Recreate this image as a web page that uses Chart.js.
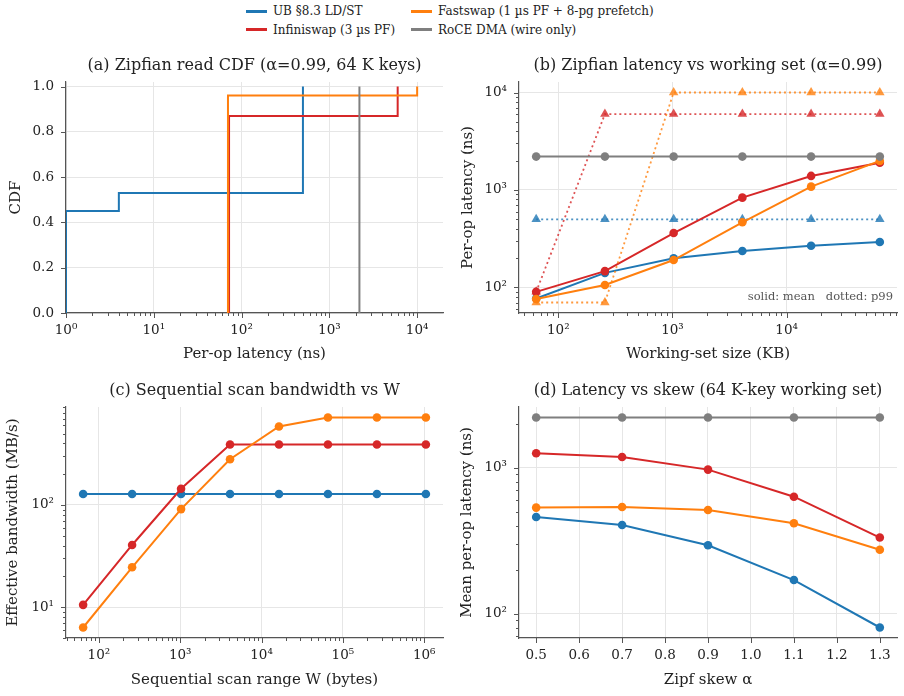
<!DOCTYPE html>
<html>
<head>
<meta charset="utf-8">
<script src="https://cdn.jsdelivr.net/npm/chart.js@4.4.0/dist/chart.umd.min.js"></script>
<style>
  body { margin: 0; background: #fff; }
  #wrap { position: relative; width: 904px; height: 696px; font-family: 'DejaVu Serif', serif; }
  canvas { position: absolute; }
  #legend { position: absolute; left: 246px; top: 2px; display: grid; grid-template-columns: 165px auto; row-gap: 0; font-size: 12px; color: #222; }
  .item { display: flex; align-items: center; height: 18.5px; white-space: nowrap; }
  .swatch { display: inline-block; width: 21px; height: 3px; margin-right: 6px; }
</style>
</head>
<body>
<div id="wrap">
  <div id="legend"></div>
  <canvas id="chartA" width="452" height="325" style="left:0;top:45px"></canvas>
  <canvas id="chartB" width="452" height="325" style="left:452px;top:45px"></canvas>
  <canvas id="chartC" width="452" height="326" style="left:0;top:370px"></canvas>
  <canvas id="chartD" width="452" height="326" style="left:452px;top:370px"></canvas>
</div>
<script>
// Series names / colours
const systems = ['UB §8.3 LD/ST', 'Infiniswap (3 µs PF)', 'Fastswap (1 µs PF + 8-pg prefetch)', 'RoCE DMA (wire only)'];
const colors = ['#1f77b4', '#d62728', '#ff7f0e', '#7f7f7f'];

// (a) CDF step points
const cdfUbLat = [1, 1, 4, 500];
const cdfUbVal = [0, 0.45, 0.53, 1.0];
const cdfInfLat = [72, 72, 6000];
const cdfInfVal = [0, 0.87, 1.0];
const cdfFastLat = [70, 70, 10000];
const cdfFastVal = [0, 0.96, 1.0];
const cdfRoceLat = [2200, 2200];
const cdfRoceVal = [0, 1.0];

// (b) latency vs working set
const wsKB = [64, 256, 1024, 4096, 16384, 65536];
const wsMeanUb = [77, 141, 199, 236, 268, 292];
const wsMeanInf = [90, 147, 361, 834, 1393, 1900];
const wsMeanFast = [76, 106, 191, 466, 1081, 1985];
const wsMeanRoce = [2200, 2200, 2200, 2200, 2200, 2200];
const wsP99Ub = [500, 500, 500, 500, 500, 500];
const wsP99Inf = [90, 6000, 6000, 6000, 6000, 6000];
const wsP99Fast = [70, 70, 10000, 10000, 10000, 10000];

// (c) sequential scan bandwidth
const scanW = [64, 256, 1024, 4096, 16384, 65536, 262144, 1048576];
const bwUb = [128, 128, 128, 128, 128, 128, 128, 128];
const bwInf = [10.5, 40.5, 144, 390, 390, 390, 390, 390];
const bwFast = [6.3, 24.5, 91, 280, 586, 718, 718, 718];

// (d) latency vs skew
const skew = [0.5, 0.7, 0.9, 1.1, 1.3];
const skUb = [459, 405, 294, 170, 80.5];
const skInf = [1254, 1182, 968, 632, 332];
const skFast = [532, 537, 513, 416, 274];
const skRoce = [2200, 2200, 2200, 2200, 2200];

const FONT = "'DejaVu Serif', serif";
const SPINE = '#555';
const GRID = '#e6e6e6';
const TXT = '#222';
const SUP = {'-': '⁻', '0': '⁰', '1': '¹', '2': '²', '3': '³', '4': '⁴', '5': '⁵', '6': '⁶', '7': '⁷', '8': '⁸', '9': '⁹'};

// legend
const legendEl = document.getElementById('legend');
[0, 2, 1, 3].forEach((i) => {
  const d = document.createElement('div');
  d.className = 'item';
  d.innerHTML = '<span class="swatch" style="background:' + colors[i] + '"></span>' + systems[i];
  legendEl.appendChild(d);
});

const pts = (xs, ys) => xs.map((x, i) => ({x: x, y: ys[i]}));

// 5% margin on a log axis, like matplotlib
function logPad(lo, hi) {
  const a = Math.log10(lo), b = Math.log10(hi), m = (b - a) * 0.05;
  return [Math.pow(10, a - m), Math.pow(10, b + m)];
}

function logTicks(scale) {
  const ticks = [];
  const lo = Math.floor(Math.log10(scale.min)), hi = Math.ceil(Math.log10(scale.max));
  for (let e = lo; e <= hi; e++) {
    for (let k = 1; k < 10; k++) {
      const v = k * Math.pow(10, e);
      if (v >= scale.min * 0.9999 && v <= scale.max * 1.0001) ticks.push({value: v, major: k === 1});
    }
  }
  scale.ticks = ticks;
}

function fixedTicks(values) {
  return (scale) => { scale.ticks = values.map((v) => ({value: v, major: true})); };
}

function logLabel(value, index, ticks) {
  if (!ticks[index].major) return '';
  const e = String(Math.round(Math.log10(value)));
  return '10' + e.split('').map((c) => SUP[c]).join('');
}

// draws outward tick marks, longer for major
const tickMarks = {
  id: 'tickMarks',
  afterDraw(chart) {
    const ctx = chart.ctx;
    ctx.save();
    ctx.strokeStyle = SPINE;
    ctx.lineWidth = 1;
    ['x', 'y'].forEach((id) => {
      const s = chart.scales[id];
      s.ticks.forEach((t) => {
        const len = t.major ? 5 : 3;
        const p = Math.round(s.getPixelForValue(t.value)) + 0.5;
        ctx.beginPath();
        if (id === 'x') { ctx.moveTo(p, s.top); ctx.lineTo(p, s.top + len); }
        else { ctx.moveTo(s.right, p); ctx.lineTo(s.right - len, p); }
        ctx.stroke();
      });
    });
    ctx.restore();
  }
};

// panel title centred over the plot area, plus optional corner note
const panelText = {
  id: 'panelText',
  afterDraw(chart, args, opts) {
    const ctx = chart.ctx, a = chart.chartArea;
    ctx.save();
    ctx.font = '16px ' + FONT;
    ctx.fillStyle = TXT;
    ctx.textAlign = 'center';
    ctx.textBaseline = 'middle';
    ctx.fillText(opts.title, (a.left + a.right) / 2, 20.5);
    if (opts.note) {
      ctx.font = '11.5px ' + FONT;
      ctx.fillStyle = '#555';
      ctx.textAlign = 'right';
      ctx.fillText(opts.note, a.right - 4, a.bottom - 16);
    }
    ctx.restore();
  }
};

function axis(o) {
  return {
    type: o.type,
    min: o.min,
    max: o.max,
    bounds: 'data',
    afterBuildTicks: o.ticks,
    afterFit: (s) => { if (o.width) s.width = o.width; if (o.height) s.height = o.height; },
    border: {display: true, color: SPINE, width: 1.2},
    grid: {
      color: (c) => (c.tick && c.tick.major ? GRID : 'rgba(0,0,0,0)'),
      lineWidth: 1,
      tickLength: 5,
      tickColor: 'rgba(0,0,0,0)'
    },
    ticks: {
      autoSkip: false,
      maxRotation: 0,
      padding: o.pad,
      color: TXT,
      font: {family: FONT, size: 13.5},
      callback: o.label
    },
    title: {
      display: true,
      text: o.title,
      color: TXT,
      font: {family: FONT, size: 15, lineHeight: 1.2},
      padding: o.titlePad
    }
  };
}

function makeChart(id, datasets, title, xAxis, yAxis, note) {
  return new Chart(document.getElementById(id), {
    type: 'scatter',
    data: {datasets: datasets},
    plugins: [tickMarks, panelText],
    options: {
      responsive: false,
      animation: false,
      events: [],
      layout: {padding: {left: 0, right: xAxis.rightPad, top: 37, bottom: 0}},
      plugins: {
        legend: {display: false},
        tooltip: {enabled: false},
        title: {display: false},
        panelText: {title: title, note: note}
      },
      scales: {x: axis(xAxis), y: axis(yAxis)}
    }
  });
}

function solid(xs, ys, ci, order, radius) {
  return {
    data: pts(xs, ys),
    showLine: true,
    borderColor: colors[ci],
    backgroundColor: colors[ci],
    borderWidth: 2,
    pointRadius: radius,
    pointBorderWidth: 0,
    order: order
  };
}

function dotted(xs, ys, ci, order) {
  const c = colors[ci] + 'cc';
  return {
    data: pts(xs, ys),
    showLine: true,
    borderColor: c,
    backgroundColor: c,
    borderWidth: 1.8,
    borderDash: [2, 3],
    pointStyle: 'triangle',
    pointRadius: 5.5,
    pointBorderWidth: 0,
    order: order
  };
}

// (a)
const cdfSets = [
  solid(cdfUbLat, cdfUbVal, 0, 4, 0),
  solid(cdfInfLat, cdfInfVal, 1, 3, 0),
  solid(cdfFastLat, cdfFastVal, 2, 2, 0),
  solid(cdfRoceLat, cdfRoceVal, 3, 1, 0)
];
cdfSets.forEach((d) => { d.stepped = 'before'; });
makeChart('chartA', cdfSets, '(a) Zipfian read CDF (α=0.99, 64 K keys)',
  {type: 'logarithmic', min: 1, max: 19700, ticks: logTicks, label: logLabel, height: 57, pad: 4,
    title: 'Per-op latency (ns)', titlePad: {top: 0, bottom: 7}, rightPad: 9},
  {type: 'linear', min: 0, max: 1.02, ticks: fixedTicks([0, 0.2, 0.4, 0.6, 0.8, 1.0]),
    label: (v) => v.toFixed(1), width: 66, pad: 7, title: 'CDF', titlePad: {top: 7.5, bottom: 0}});

// (b)
const wsX = logPad(wsKB[0], wsKB[wsKB.length - 1]);
const wsY = logPad(70, 10000);
makeChart('chartB', [
  solid(wsKB, wsMeanUb, 0, 8, 4.3),
  dotted(wsKB, wsP99Ub, 0, 7),
  solid(wsKB, wsMeanInf, 1, 6, 4.3),
  dotted(wsKB, wsP99Inf, 1, 5),
  solid(wsKB, wsMeanFast, 2, 4, 4.3),
  dotted(wsKB, wsP99Fast, 2, 3),
  solid(wsKB, wsMeanRoce, 3, 2, 4.3)
], '(b) Zipfian latency vs working set (α=0.99)',
  {type: 'logarithmic', min: wsX[0], max: wsX[1], ticks: logTicks, label: logLabel, height: 57, pad: 4,
    title: 'Working-set size (KB)', titlePad: {top: 0, bottom: 7}, rightPad: 7},
  {type: 'logarithmic', min: wsY[0], max: wsY[1], ticks: logTicks, label: logLabel, width: 67, pad: 7,
    title: 'Per-op latency (ns)', titlePad: {top: 7, bottom: 0}},
  'solid: mean   dotted: p99');

// (c)
const scX = logPad(scanW[0], scanW[scanW.length - 1]);
const scY = logPad(6.3, 718);
makeChart('chartC', [
  solid(scanW, bwUb, 0, 3, 4.3),
  solid(scanW, bwInf, 1, 2, 4.3),
  solid(scanW, bwFast, 2, 1, 4.3)
], '(c) Sequential scan bandwidth vs W',
  {type: 'logarithmic', min: scX[0], max: scX[1], ticks: logTicks, label: logLabel, height: 58, pad: 4,
    title: 'Sequential scan range W (bytes)', titlePad: {top: 0, bottom: 6.5}, rightPad: 9},
  {type: 'logarithmic', min: scY[0], max: scY[1], ticks: logTicks, label: logLabel, width: 66, pad: 7,
    title: 'Effective bandwidth (MB/s)', titlePad: {top: 4.5, bottom: 0}});

// (d)
const skY = logPad(80.5, 2200);
makeChart('chartD', [
  solid(skew, skUb, 0, 4, 4.3),
  solid(skew, skInf, 1, 3, 4.3),
  solid(skew, skFast, 2, 2, 4.3),
  solid(skew, skRoce, 3, 1, 4.3)
], '(d) Latency vs skew (64 K-key working set)',
  {type: 'linear', min: 0.46, max: 1.34, ticks: fixedTicks([0.5, 0.6, 0.7, 0.8, 0.9, 1.0, 1.1, 1.2, 1.3]),
    label: (v) => v.toFixed(1), height: 58, pad: 4,
    title: 'Zipf skew α', titlePad: {top: 0, bottom: 6.5}, rightPad: 7},
  {type: 'logarithmic', min: skY[0], max: skY[1], ticks: logTicks, label: logLabel, width: 67, pad: 7,
    title: 'Mean per-op latency (ns)', titlePad: {top: 6.5, bottom: 0}});
</script>
</body>
</html>
